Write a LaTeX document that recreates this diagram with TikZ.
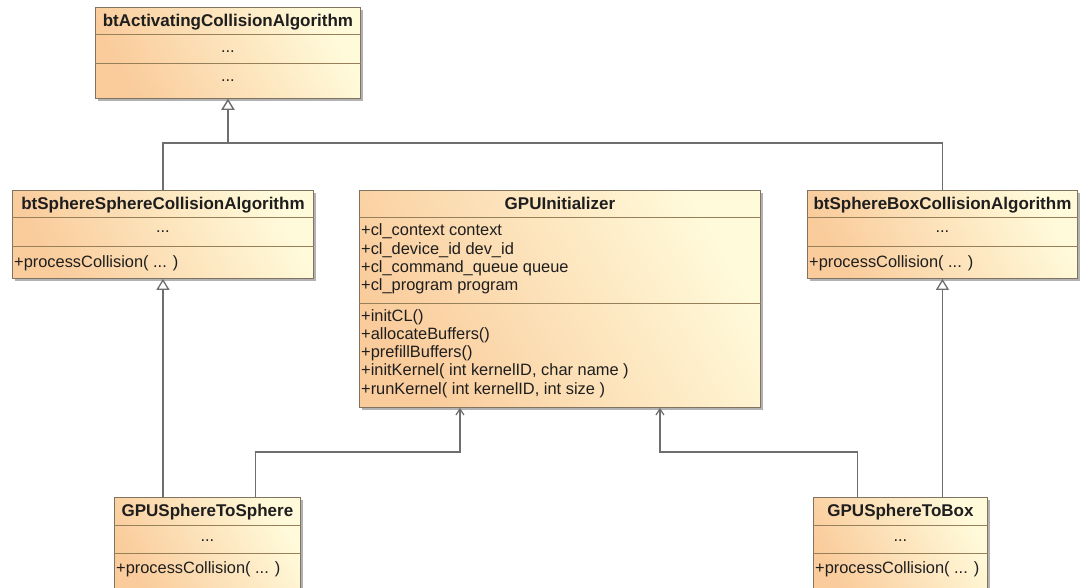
\documentclass[tikz,border=0pt]{standalone}
\usepackage{fontspec}
\setmainfont{Liberation Sans}
\usetikzlibrary{arrows.meta,shadows}

\definecolor{boxL}{RGB}{250,204,156}
\definecolor{boxR}{RGB}{255,250,218}
\definecolor{boxEdge}{RGB}{128,116,96}
\definecolor{sepLine}{RGB}{150,128,90}
\definecolor{wire}{RGB}{110,110,110}
\definecolor{ink}{RGB}{30,30,30}

\tikzset{
  classbox/.style={rectangle, draw=boxEdge, line width=0.9pt, anchor=north west,
    inner sep=0pt, top color=boxR, bottom color=boxL, shading angle=-60,
    drop shadow={shadow xshift=3pt, shadow yshift=-3pt, opacity=0.3, fill=black}},
  ctitle/.style={font=\fontsize{17}{20}\selectfont\bfseries, inner sep=0pt, anchor=base, text=ink},
  dots/.style={font=\fontsize{16.4}{18.33}\selectfont, inner sep=0pt, anchor=base, text=ink},
  member/.style={font=\fontsize{16.4}{18.33}\selectfont, inner sep=0pt, anchor=base west, text=ink},
  sepline/.style={draw=sepLine, line width=0.9pt},
  gen/.style={draw=wire, line width=1.3pt, -{Triangle[open, length=11pt, width=13pt, fill=white]}},
  assoc/.style={draw=wire, line width=1.2pt, -{Straight Barb[length=6pt, width=8pt]}},
}
% compartment rule #2 pt below the top edge of class box #1
\newcommand{\classrule}[2]{\draw[sepline] ([yshift=-#2]#1.north west) -- ([yshift=-#2]#1.north east);}

\begin{document}
\begin{tikzpicture}[x=1pt,y=1pt]
\useasboundingbox (0,0) rectangle (1081,-588);
\fill[white] (0,0) rectangle (1081,-588);
\clip (0,0) rectangle (1081,-588);

% ---- btActivatingCollisionAlgorithm
\node[classbox, minimum width=265, minimum height=91] (top) at (95,-7) {};
\classrule{top}{27}
\classrule{top}{56}
\node[ctitle] (top-name) at ([yshift=-19.3]top.north) {btActivatingCollisionAlgorithm};
\node[dots] (top-attr) at ([yshift=-46]top.north) {...};
\node[dots] (top-ops) at ([yshift=-74.5]top.north) {...};

% ---- btSphereSphereCollisionAlgorithm
\node[classbox, minimum width=301, minimum height=88] (sss) at (12,-190) {};
\classrule{sss}{27}
\classrule{sss}{56}
\node[ctitle] (sss-name) at ([yshift=-19.3]sss.north) {btSphereSphereCollisionAlgorithm};
\node[dots] (sss-attr) at ([yshift=-43]sss.north) {...};
\node[member] (sss-op) at ([xshift=2,yshift=-77]sss.north west) {+processCollision( ... )};

% ---- btSphereBoxCollisionAlgorithm
\node[classbox, minimum width=270, minimum height=88] (sbox) at (807,-190) {};
\classrule{sbox}{27}
\classrule{sbox}{56}
\node[ctitle] (sbox-name) at ([yshift=-19.3]sbox.north) {btSphereBoxCollisionAlgorithm};
\node[dots] (sbox-attr) at ([yshift=-43]sbox.north) {...};
\node[member] (sbox-op) at ([xshift=2,yshift=-77]sbox.north west) {+processCollision( ... )};

% ---- GPUInitializer
\node[classbox, minimum width=401, minimum height=217] (gpu) at (359,-190) {};
\classrule{gpu}{27}
\classrule{gpu}{113}
\node[ctitle] (gpu-name) at ([yshift=-19.3]gpu.north) {GPUInitializer};
\foreach [count=\i] \t in {+cl\_context context, +cl\_device\_id dev\_id,
    +cl\_command\_queue queue, +cl\_program program}
  \node[member] (gpu-attr\i) at ([xshift=2,yshift={-46-18.33*(\i-1)}]gpu.north west) {\t};
\foreach [count=\i] \t in {+initCL(), +allocateBuffers(), +prefillBuffers(),
    {+initKernel( int kernelID, char name )}, {+runKernel( int kernelID, int size )}}
  \node[member] (gpu-op\i) at ([xshift=2,yshift={-131-18.33*(\i-1)}]gpu.north west) {\t};

% ---- GPUSphereToSphere
\node[classbox, minimum width=186, minimum height=95] (gss) at (114,-497) {};
\classrule{gss}{28}
\classrule{gss}{56}
\node[ctitle] (gss-name) at ([yshift=-19.5]gss.north) {GPUSphereToSphere};
\node[dots] (gss-attr) at ([yshift=-44.5]gss.north) {...};
\node[member] (gss-op) at ([xshift=2,yshift=-76]gss.north west) {+processCollision( ... )};

% ---- GPUSphereToBox
\node[classbox, minimum width=174, minimum height=95] (gsb) at (813,-497) {};
\classrule{gsb}{28}
\classrule{gsb}{56}
\node[ctitle] (gsb-name) at ([yshift=-19.5]gsb.north) {GPUSphereToBox};
\node[dots] (gsb-attr) at ([yshift=-44.5]gsb.north) {...};
\node[member] (gsb-op) at ([xshift=2,yshift=-76]gsb.north west) {+processCollision( ... )};

% ---- generalizations
\draw[gen] (sss.north) -- ++(0,47) -| (top.south);
\draw[gen] (sbox.north) -- ++(0,47) -| (top.south);
\draw[gen] (gss.north -| sss.south) -- (sss.south);
\draw[gen] (gsb.north -| sbox.south) -- (sbox.south);

% ---- associations to GPUInitializer
\draw[assoc] ([xshift=48]gss.north) -- ++(0,45) -| ([xshift=-100]gpu.south);
\draw[assoc] ([xshift=-43]gsb.north) -- ++(0,45) -| ([xshift=100]gpu.south);
\end{tikzpicture}
\end{document}
